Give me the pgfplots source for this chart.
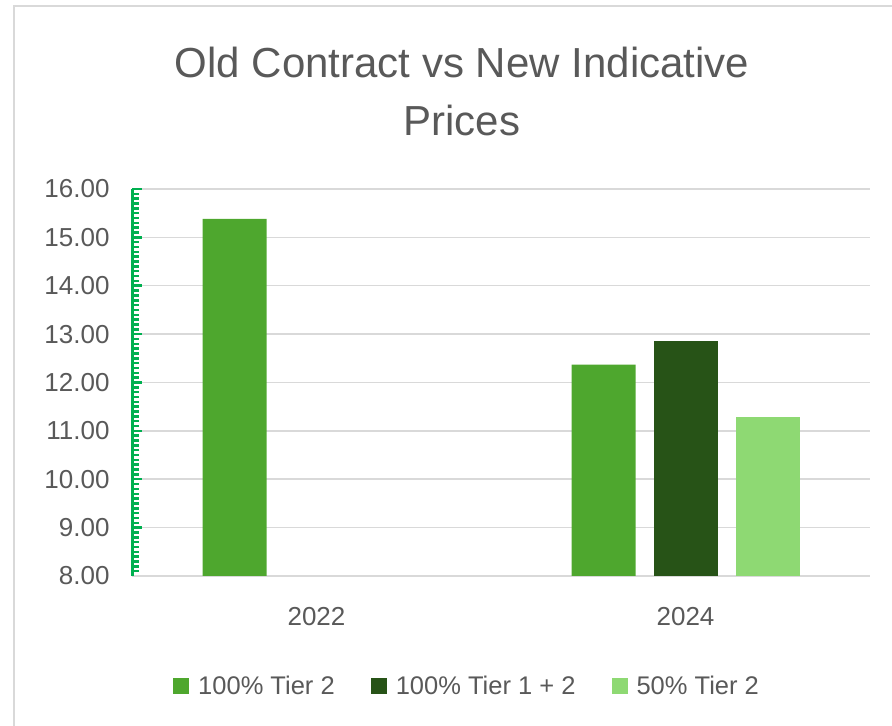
\documentclass[border=0pt]{standalone}
\usepackage{fontspec}
\setmainfont{Liberation Sans}
\usepackage{pgfplots}
\pgfplotsset{compat=1.18}
\definecolor{gmed}{HTML}{4EA72E}
\definecolor{gdark}{HTML}{275317}
\definecolor{glight}{HTML}{8ED973}
\definecolor{axgreen}{HTML}{00B050}
\definecolor{gridgray}{HTML}{D9D9D9}
\definecolor{txtgray}{HTML}{595959}
\begin{document}
\begin{tikzpicture}[x=1bp,y=1bp]
\useasboundingbox (0,0) rectangle (892,726);
\draw[gridgray, line width=2bp] (14,0) -- (14,720) -- (892,720);
\node[align=center, text=txtgray, font=\fontsize{42bp}{58bp}\selectfont] at (462,635) {Old Contract vs New Indicative\\Prices};
\begin{axis}[
  at={(132bp,150bp)}, anchor=south west,
  scale only axis, width=738bp, height=387bp,
  xmin=-0.5, xmax=1.5, ymin=8, ymax=16,
  xtick={0,1}, xticklabels={2022,2024},
  ytick={8,9,...,16},
  minor y tick num=9,
  axis lines*=left,
  x axis line style={draw=gridgray, line width=2bp},
  y axis line style={draw=axgreen, line width=3bp},
  xtick style={draw=none},
  ytick style={draw=axgreen, line width=2.5bp},
  major tick length=10bp, minor tick length=7bp,
  tick align=inside,
  ymajorgrids,
  major grid style={draw=gridgray, line width=1.5bp},
  /pgf/number format/assume math mode=true,
  yticklabel style={/pgf/number format/fixed, /pgf/number format/fixed zerofill, /pgf/number format/precision=2, xshift=-19bp},
  ticklabel style={text=txtgray, font=\fontsize{26bp}{30bp}\selectfont},
  xticklabel style={yshift=-18bp},
  ybar, bar width=64bp,
  legend columns=3,
  legend style={at={(0.454,-0.284)}, anchor=center, draw=none, fill=none,
    font=\fontsize{25.5bp}{30bp}\selectfont, text=txtgray,
    /tikz/every odd column/.append style={column sep=7bp},
    /tikz/every even column/.append style={column sep=34bp}},
  legend image code/.code={\fill[#1] (0bp,-8bp) rectangle (16bp,8bp);},
]
\addplot[fill=gmed, draw=none, bar shift=-82bp] coordinates {(0,15.38) (1,12.37)};
\addplot[fill=gdark, draw=none, bar shift=0bp] coordinates {(1,12.86)};
\addplot[fill=glight, draw=none, bar shift=82bp] coordinates {(1,11.29)};
\legend{100\% Tier 2, 100\% Tier 1 + 2, 50\% Tier 2}
\end{axis}
\end{tikzpicture}
\end{document}
